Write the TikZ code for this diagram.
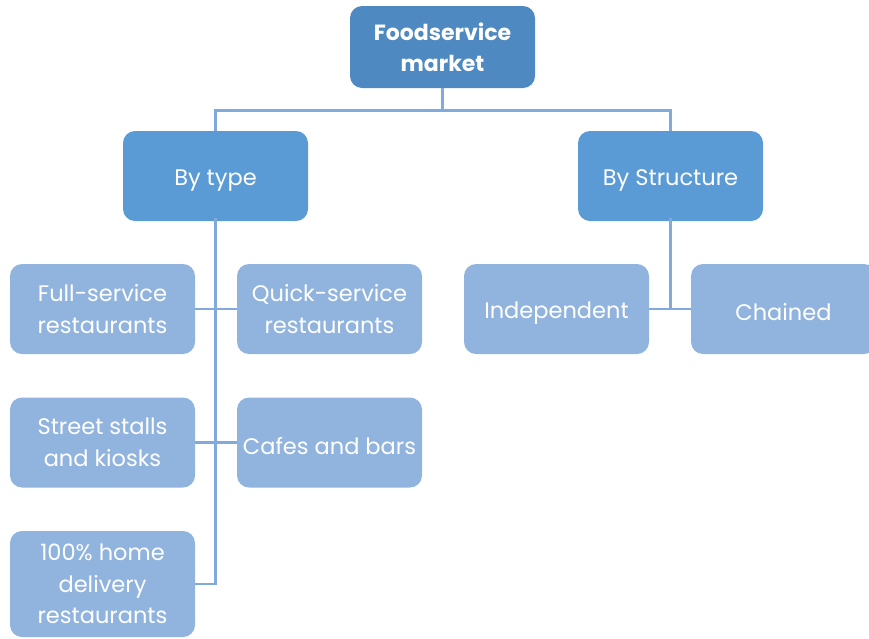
\documentclass[tikz,border=0pt]{standalone}
\usepackage{fontspec}
\setmainfont{Poppins}
\usetikzlibrary{positioning}
\definecolor{topblue}{RGB}{79,137,193}
\definecolor{midblue}{RGB}{91,155,213}
\definecolor{lightblue}{RGB}{145,180,223}
\definecolor{linkblue}{RGB}{128,170,220}

\tikzset{
  box/.style={rounded corners=12pt, minimum width=185pt, minimum height=90pt,
    inner sep=0pt, text=white, align=center, font=\fontsize{22.5}{31.5}\selectfont,
    execute at begin node={\rule{0pt}{24pt}}},
  topbox/.style={box, fill=topblue, minimum height=82pt,
    font=\bfseries\fontsize{22}{31}\selectfont},
  catbox/.style={box, fill=midblue},
  leafbox/.style={box, fill=lightblue},
  link/.style={draw=linkblue, line width=2.6pt}
}

\begin{document}
\begin{tikzpicture}[x=1pt,y=-1pt]
    \useasboundingbox (0,0) rectangle (869,638);

    % Root
    \node[topbox] (market) at (442.5,47) {Foodservice\\market};

    % Categories
    \node[catbox] (type) at (215.5,176) {By type};
    \node[catbox] (structure) at (670.5,176) {By Structure};

    % By type
    \node[leafbox] (full) at (102.5,309) {Full-service\\restaurants};
    \node[leafbox] (quick) at (329.5,309) {Quick-service\\restaurants};
    \node[leafbox] (stalls) at (102.5,442.5) {Street stalls\\and kiosks};
    \node[leafbox] (cafes) at (329.5,442.5) {Cafes and bars};
    \node[leafbox, minimum height=106pt] (delivery) at (102.5,584) {100\% home\\delivery\\restaurants};

    % By structure
    \node[leafbox] (independent) at (556.5,309) {Independent};
    \node[leafbox] (chained) at (783.5,309) {Chained};

    % Connectors
    \draw[link] (market.south) -- ++(0,22) coordinate (fork);
    \draw[link] (type.north) |- (fork) -| (structure.north);
    \draw[link] ([yshift=3pt]type.south) -- (type.south |- delivery.east) -- (delivery.east);
    \draw[link] (full.east) -- (quick.west);
    \draw[link] (stalls.east) -- (cafes.west);
    \draw[link] ([yshift=3pt]structure.south) -- (structure.south |- independent.east);
    \draw[link] (independent.east) -- (chained.west);
\end{tikzpicture}
\end{document}
